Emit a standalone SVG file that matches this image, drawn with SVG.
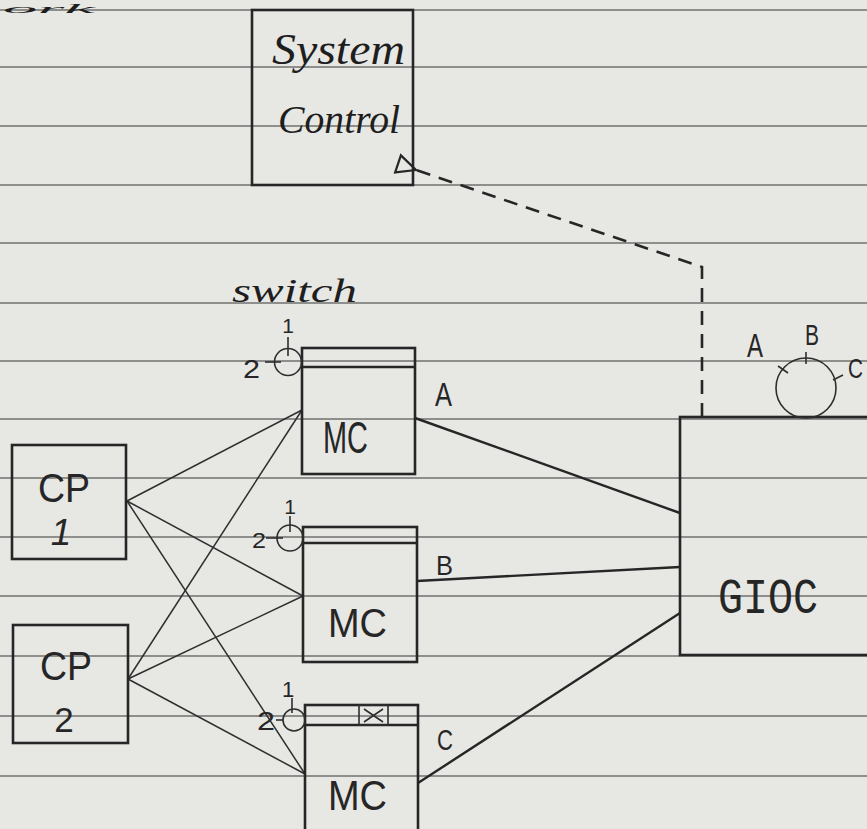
<svg xmlns="http://www.w3.org/2000/svg" width="867" height="829" viewBox="0 0 867 829">
<style>
  .paper { fill: #e7e7e4; }
  .rule { stroke: #8e8e8c; stroke-width: 1.8; }
  .box { fill: none; stroke: #262626; stroke-width: 2.6; }
  .thin { fill: none; stroke: #2e2e2e; stroke-width: 1.6; }
  .wire { fill: none; stroke: #2e2e2e; stroke-width: 1.5; }
  .link { fill: none; stroke: #262626; stroke-width: 2.4; }
  .dash { fill: none; stroke: #262626; stroke-width: 2.6; stroke-dasharray: 14 9; }
  .print { font-family: "Liberation Sans", Arial, sans-serif; fill: #262626; }
  .mono { font-family: "Liberation Mono", "Courier New", monospace; fill: #262626; }
  .script { font-family: "Liberation Serif", "Times New Roman", serif; font-style: italic; fill: #1e1e1e; }
</style>
<defs>
  <marker id="openTri" viewBox="0 0 24 24" refX="2" refY="12" markerWidth="24" markerHeight="24" markerUnits="userSpaceOnUse" orient="auto">
    <path d="M2,12 L21,3 L21,21 Z" fill="none" stroke="#262626" stroke-width="2.2"/>
  </marker>
</defs>

<rect class="paper" x="0" y="0" width="867" height="829"/>
<g id="ruling">
  <line class="rule" x1="0" y1="10" x2="867" y2="10"/>
  <line class="rule" x1="0" y1="67" x2="867" y2="67"/>
  <line class="rule" x1="0" y1="126" x2="867" y2="126"/>
  <line class="rule" x1="0" y1="185" x2="867" y2="185"/>
  <line class="rule" x1="0" y1="243" x2="867" y2="243"/>
  <line class="rule" x1="0" y1="303" x2="867" y2="303"/>
  <line class="rule" x1="0" y1="361" x2="867" y2="361"/>
  <line class="rule" x1="0" y1="419" x2="867" y2="419"/>
  <line class="rule" x1="0" y1="478" x2="867" y2="478"/>
  <line class="rule" x1="0" y1="537" x2="867" y2="537"/>
  <line class="rule" x1="0" y1="596" x2="867" y2="596"/>
  <line class="rule" x1="0" y1="656" x2="867" y2="656"/>
  <line class="rule" x1="0" y1="716" x2="867" y2="716"/>
  <line class="rule" x1="0" y1="776" x2="867" y2="776"/>
</g>

<text class="script" x="3" y="13" font-size="12" textLength="92" lengthAdjust="spacingAndGlyphs">ork</text>

<g id="connectors">
  <!-- CP1 to MCs -->
  <line class="wire" x1="127" y1="501" x2="302" y2="410"/>
  <line class="wire" x1="127" y1="501" x2="303" y2="596"/>
  <line class="wire" x1="127" y1="501" x2="305" y2="774"/>
  <!-- CP2 to MCs -->
  <line class="wire" x1="128" y1="679" x2="302" y2="410"/>
  <line class="wire" x1="128" y1="679" x2="303" y2="596"/>
  <line class="wire" x1="128" y1="679" x2="305" y2="774"/>
  <!-- MCs to GIOC -->
  <line class="link" x1="415" y1="418" x2="680" y2="513"/>
  <line class="link" x1="417" y1="581" x2="680" y2="567"/>
  <line class="link" x1="418" y1="783" x2="680" y2="613"/>
  <!-- GIOC to System Control (dashed) -->
  <path class="dash" d="M702,417 L702,267 L416,170" marker-end="url(#openTri)"/>
  <text class="print" x="435" y="406" font-size="34" textLength="17" lengthAdjust="spacingAndGlyphs">A</text>
  <text class="print" x="436" y="575" font-size="28" textLength="17" lengthAdjust="spacingAndGlyphs">B</text>
  <text class="print" x="437" y="750" font-size="30" textLength="16" lengthAdjust="spacingAndGlyphs">C</text>
</g>

<g id="system-control">
  <rect class="box" x="252" y="10" width="161" height="175"/>
  <text class="script" x="272" y="64" font-size="44" textLength="133" lengthAdjust="spacingAndGlyphs">System</text>
  <text class="script" x="278" y="133" font-size="40" textLength="122" lengthAdjust="spacingAndGlyphs">Control</text>
</g>

<text class="script" x="232" y="302" font-size="34" textLength="125" lengthAdjust="spacingAndGlyphs">switch</text>

<g id="mc-a">
  <rect class="box" x="302" y="348" width="113" height="126"/>
  <line class="box" x1="302" y1="367" x2="415" y2="367"/>
  <circle class="thin" cx="288" cy="362" r="13.5" stroke-width="2"/>
  <line class="thin" x1="288" y1="337" x2="288" y2="356"/>
  <line class="thin" x1="265" y1="362" x2="281" y2="362"/>
  <text class="print" x="288" y="333" font-size="21" text-anchor="middle">1</text>
  <text class="print" x="243" y="378" font-size="25" textLength="17" lengthAdjust="spacingAndGlyphs">2</text>
  <text class="print" x="323" y="453" font-size="44" textLength="45" lengthAdjust="spacingAndGlyphs">MC</text>
</g>

<g id="mc-b">
  <rect class="box" x="303" y="527" width="114" height="135"/>
  <line class="box" x1="303" y1="543" x2="417" y2="543"/>
  <circle class="thin" cx="290" cy="538" r="13" stroke-width="2"/>
  <line class="thin" x1="290" y1="516" x2="290" y2="532"/>
  <line class="thin" x1="266" y1="538" x2="283" y2="538"/>
  <text class="print" x="290" y="514" font-size="21" text-anchor="middle">1</text>
  <text class="print" x="252" y="548" font-size="22" textLength="14" lengthAdjust="spacingAndGlyphs">2</text>
  <text class="print" x="328" y="637" font-size="41" textLength="59" lengthAdjust="spacingAndGlyphs">MC</text>
</g>

<g id="mc-c">
  <rect class="box" x="305" y="705" width="113" height="140"/>
  <line class="box" x1="305" y1="725" x2="418" y2="725"/>
  <rect class="thin" x="359" y="705" width="29" height="20" stroke-width="2"/>
  <line class="thin" x1="364" y1="709" x2="383" y2="722"/>
  <line class="thin" x1="383" y1="709" x2="364" y2="722"/>
  <circle class="thin" cx="294" cy="720" r="11" stroke-width="2"/>
  <line class="thin" x1="292" y1="698" x2="292" y2="713"/>
  <line class="thin" x1="276" y1="720" x2="283" y2="720"/>
  <text class="print" x="288" y="697" font-size="22" text-anchor="middle">1</text>
  <text class="print" x="257" y="730" font-size="26" textLength="18" lengthAdjust="spacingAndGlyphs">2</text>
  <text class="print" x="328" y="810" font-size="42" textLength="59" lengthAdjust="spacingAndGlyphs">MC</text>
</g>

<g id="cp1">
  <rect class="box" x="12" y="445" width="114" height="114"/>
  <text class="print" x="38" y="502" font-size="40" textLength="52" lengthAdjust="spacingAndGlyphs">CP</text>
  <text class="print" x="61" y="545" font-size="37" text-anchor="middle" font-style="italic">1</text>
</g>

<g id="cp2">
  <rect class="box" x="13" y="625" width="115" height="118"/>
  <text class="print" x="40" y="680" font-size="40" textLength="52" lengthAdjust="spacingAndGlyphs">CP</text>
  <text class="print" x="64" y="732" font-size="35" text-anchor="middle">2</text>
</g>

<g id="gioc">
  <rect class="box" x="680" y="417" width="200" height="238"/>
  <text class="mono" x="718" y="613" font-size="50" textLength="100" lengthAdjust="spacingAndGlyphs">GIOC</text>
  <circle class="thin" cx="806" cy="388" r="30" stroke-width="2.6"/>
  <line class="thin" x1="778" y1="366" x2="788" y2="373" stroke-width="2"/>
  <line class="thin" x1="806" y1="352" x2="806" y2="364" stroke-width="2"/>
  <line class="thin" x1="833" y1="380" x2="843" y2="375" stroke-width="2"/>
  <text class="print" x="747" y="357" font-size="34" textLength="16" lengthAdjust="spacingAndGlyphs">A</text>
  <text class="print" x="805" y="345" font-size="30" textLength="14" lengthAdjust="spacingAndGlyphs">B</text>
  <text class="print" x="848" y="378" font-size="28" textLength="15" lengthAdjust="spacingAndGlyphs">C</text>
</g>
</svg>
